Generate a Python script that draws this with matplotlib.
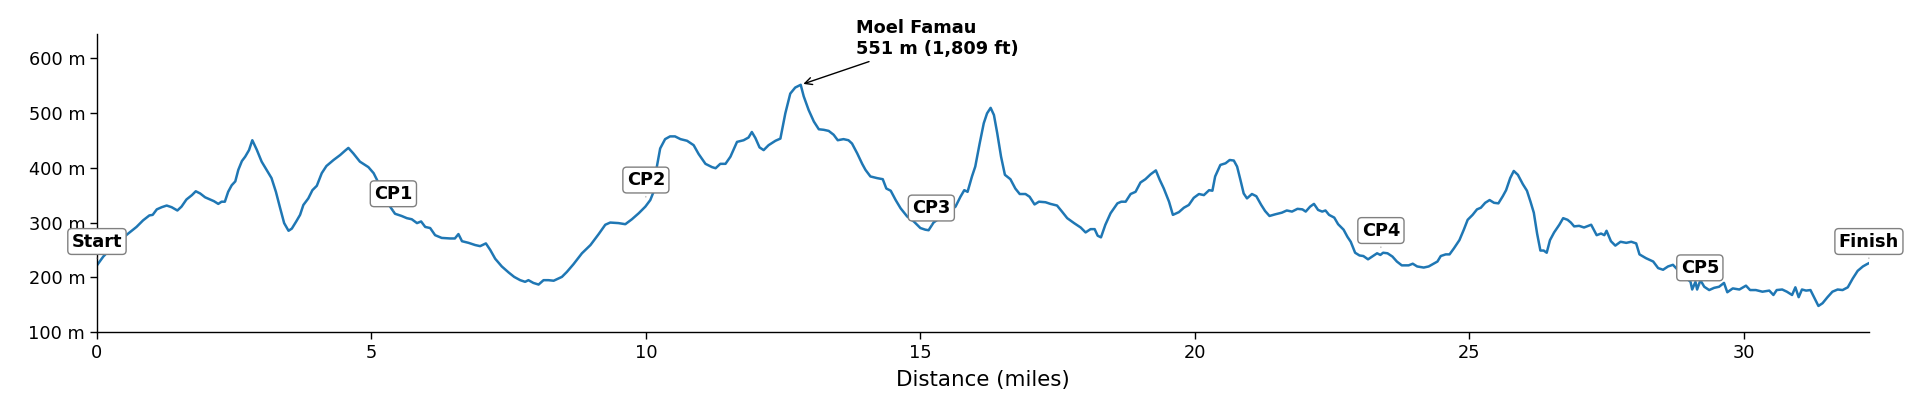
import matplotlib
matplotlib.use("Agg")
import matplotlib.pyplot as plt
from matplotlib.ticker import FuncFormatter

# Elevation profile (distance in miles, elevation in metres)
miles = [0.00, 0.115, 0.25, 0.40, 0.57, 0.72, 0.84, 0.955, 1.015, 1.09, 1.18, 1.27, 1.36, 1.465,
         1.54, 1.63, 1.73, 1.80, 1.88, 1.97, 2.06, 2.13, 2.21, 2.27, 2.33, 2.39, 2.455, 2.52,
         2.575, 2.64, 2.70, 2.77, 2.83, 2.91, 3.00, 3.09, 3.18, 3.26, 3.33, 3.41, 3.49, 3.55,
         3.63, 3.70, 3.76, 3.85, 3.925, 4.005, 4.095, 4.18, 4.31, 4.43, 4.52, 4.58, 4.67, 4.79,
         4.945, 5.04, 5.13, 5.24, 5.34, 5.43, 5.55, 5.645, 5.735, 5.83, 5.905, 5.98, 6.07, 6.16,
         6.28, 6.435, 6.52, 6.585, 6.65, 6.77, 6.89, 6.98, 7.085, 7.165, 7.255, 7.375, 7.50,
         7.60, 7.71, 7.80, 7.86, 7.95, 8.045, 8.135, 8.225, 8.32, 8.47, 8.56, 8.68, 8.835, 8.99,
         9.14, 9.26, 9.35, 9.50, 9.625, 9.745, 9.87, 9.99, 10.08, 10.14, 10.20, 10.26, 10.35,
         10.44, 10.53, 10.63, 10.75, 10.87, 10.96, 11.085, 11.205, 11.27, 11.355, 11.45, 11.54,
         11.66, 11.78, 11.87, 11.93, 11.995, 12.07, 12.145, 12.235, 12.36, 12.45, 12.54, 12.63,
         12.72, 12.82, 12.875, 12.965, 13.06, 13.15, 13.24, 13.33, 13.42, 13.495, 13.60, 13.69,
         13.755, 13.85, 13.94, 14.00, 14.09, 14.21, 14.315, 14.38, 14.46, 14.55, 14.64, 14.76,
         14.88, 15.00, 15.09, 15.15, 15.24, 15.42, 15.64, 15.73, 15.80, 15.86, 15.94, 16.00,
         16.08, 16.155, 16.215, 16.28, 16.34, 16.40, 16.47, 16.54, 16.64, 16.73, 16.81, 16.915,
         16.99, 17.08, 17.16, 17.28, 17.37, 17.49, 17.58, 17.675, 17.80, 17.92, 18.01, 18.10,
         18.175, 18.23, 18.29, 18.37, 18.465, 18.59, 18.66, 18.74, 18.83, 18.92, 19.01, 19.10,
         19.195, 19.29, 19.36, 19.435, 19.53, 19.60, 19.71, 19.80, 19.89, 19.98, 20.075, 20.165,
         20.26, 20.32, 20.37, 20.465, 20.56, 20.635, 20.71, 20.77, 20.83, 20.89, 20.95, 21.04,
         21.12, 21.21, 21.28, 21.36, 21.465, 21.585, 21.675, 21.77, 21.87, 21.96, 22.02, 22.10,
         22.17, 22.245, 22.32, 22.38, 22.445, 22.54, 22.61, 22.71, 22.78, 22.84, 22.92, 23.00,
         23.07, 23.155, 23.23, 23.32, 23.38, 23.43, 23.51, 23.60, 23.68, 23.77, 23.895, 23.97,
         24.05, 24.17, 24.26, 24.35, 24.42, 24.48, 24.57, 24.64, 24.72, 24.82, 24.90, 24.97,
         25.06, 25.14, 25.21, 25.29, 25.37, 25.45, 25.53, 25.61, 25.67, 25.745, 25.81, 25.885,
         25.975, 26.05, 26.115, 26.175, 26.235, 26.295, 26.355, 26.41, 26.47, 26.545, 26.64,
         26.71, 26.79, 26.85, 26.91, 27.00, 27.09, 27.22, 27.32, 27.40, 27.46, 27.50, 27.58,
         27.66, 27.755, 27.86, 27.95, 28.04, 28.10, 28.22, 28.35, 28.44, 28.53, 28.62, 28.71,
         28.88, 29.03, 29.06, 29.12, 29.15, 29.21, 29.28, 29.37, 29.46, 29.55, 29.64, 29.70,
         29.80, 29.92, 30.04, 30.115, 30.22, 30.34, 30.465, 30.54, 30.60, 30.70, 30.785, 30.88,
         30.94, 31.00, 31.06, 31.135, 31.215, 31.275, 31.36, 31.435, 31.525, 31.615, 31.71,
         31.80, 31.895, 31.985, 32.075, 32.17, 32.24, 32.28]

elevation_m = [222, 238, 252, 266, 280, 292, 304, 313, 314, 324, 328, 331, 328, 322,
               329, 342, 350, 357, 353, 346, 342, 339, 334, 338, 338, 356, 368, 375,
               396, 412, 420, 432, 450, 433, 411, 396, 381, 356, 329, 299, 285, 289,
               302, 314, 332, 344, 359, 367, 390, 403, 414, 423, 431, 436, 426, 411,
               401, 390, 372, 345, 329, 316, 312, 308, 306, 299, 302, 292, 290, 277,
               272, 271, 271, 279, 266, 263, 259, 257, 262, 250, 234, 220, 209,
               201, 195, 192, 195, 190, 187, 195, 195, 194, 201, 210, 224, 244, 259,
               279, 296, 300, 299, 297, 306, 317, 329, 341, 356, 402, 435, 452,
               457, 457, 452, 449, 441, 425, 407, 401, 399, 407, 407, 420,
               447, 450, 455, 465, 454, 437, 432, 441, 449, 453, 499, 535,
               546, 551, 530, 505, 484, 470, 469, 467, 460, 450, 452, 450,
               444, 426, 407, 396, 384, 381, 379, 362, 358, 341, 326, 311,
               302, 290, 287, 286, 300, 313, 329, 347, 359, 356, 384, 402,
               444, 481, 499, 509, 496, 463, 420, 387, 379, 362, 352, 352,
               347, 333, 338, 337, 334, 331, 320, 308, 299, 291, 282, 288,
               288, 276, 273, 296, 317, 335, 338, 338, 352, 356, 373, 379,
               388, 395, 378, 362, 338, 314, 319, 327, 332, 345, 352, 350,
               359, 358, 384, 405, 408, 414, 413, 402, 378, 353, 344, 352,
               348, 332, 321, 312, 315, 318, 322, 320, 325, 324, 320, 329,
               334, 323, 320, 322, 314, 309, 297, 287, 274, 265, 245, 240,
               239, 233, 238, 244, 241, 245, 244, 238, 229, 222, 222, 225,
               220, 218, 220, 225, 229, 239, 242, 242, 253, 268, 287, 305,
               314, 324, 327, 336, 341, 336, 335, 348, 359, 381, 394, 387,
               370, 358, 338, 318, 280, 249, 249, 245, 268, 282, 296,
               308, 305, 300, 293, 294, 291, 296, 277, 280, 277, 285, 266,
               258, 265, 263, 265, 262, 242, 235, 229, 217, 214, 220, 223,
               205, 192, 178, 192, 178, 195, 183, 177, 181, 183, 190, 173,
               180, 178, 185, 177, 177, 174, 176, 168, 177, 178, 174, 168,
               182, 164, 178, 176, 177, 165, 148, 153, 164, 174, 178,
               177, 182, 198, 212, 220, 224, 226]

# Checkpoints
cp_names = ["Start", "CP1", "CP2", "CP3", "CP4", "CP5", "Finish"]
cp_miles = [0.0, 5.40, 10.0, 15.20, 23.39, 29.20, 32.28]
cp_elev = [229, 316, 341, 290, 249, 181, 229]

# Summit
summit_name = "Moel Famau"
summit_mile = 12.82
summit_elev = 551
summit_ft = 1809

fig = plt.figure(figsize=(19.2, 4.17), dpi=100)
ax = fig.add_axes([0.0505, 0.2031, 0.9229, 0.7146])

ax.plot(miles, elevation_m, color="#1f77b4", lw=1.8)

ax.set_xlim(0, miles[-1])
ax.set_ylim(100, 643)
ax.set_xticks(range(0, 31, 5))
ax.set_yticks(range(100, 601, 100))
ax.yaxis.set_major_formatter(FuncFormatter(lambda v, p: f"{v:.0f} m"))
ax.tick_params(labelsize=12.8, length=5, width=1)
ax.set_xlabel("Distance (miles)", fontsize=15.4, labelpad=6)

for s in ["top", "right"]:
    ax.spines[s].set_visible(False)
for s in ["left", "bottom"]:
    ax.spines[s].set_linewidth(1.0)

for name, x, y in zip(cp_names, cp_miles, cp_elev):
    ax.annotate(name, xy=(x, y), xytext=(0, 14.4), textcoords="offset points",
                ha="center", va="center", fontsize=12.8, fontweight="bold",
                bbox=dict(boxstyle="round,pad=0.22", fc="white", ec="gray", lw=1),
                arrowprops=dict(arrowstyle="-", color="gray", lw=0.5),
                annotation_clip=False)

ax.annotate(f"{summit_name}\n{summit_elev} m ({summit_ft:,} ft)",
            xy=(summit_mile, summit_elev), xytext=(summit_mile + 1, 600),
            ha="left", va="bottom", fontsize=12.8, fontweight="bold",
            arrowprops=dict(arrowstyle="->", color="black", lw=1))

fig.savefig("out.png", dpi=100)
